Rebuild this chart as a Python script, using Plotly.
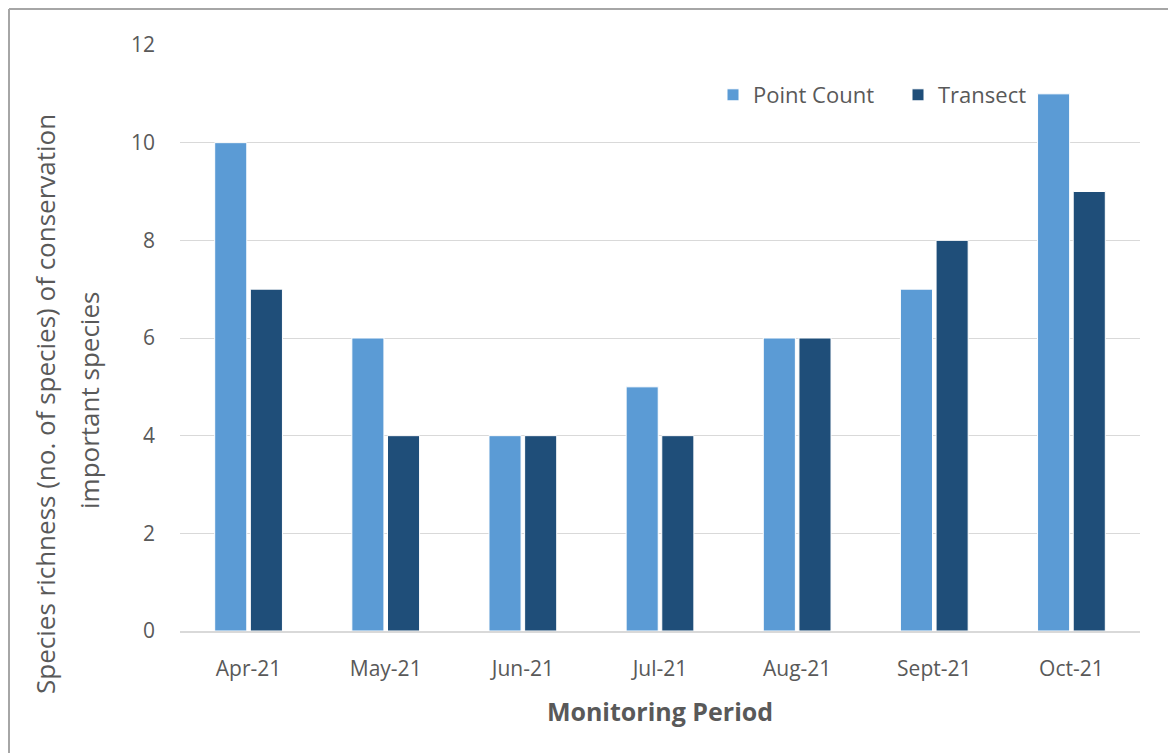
import plotly.graph_objects as go

months = ["Apr-21", "May-21", "Jun-21", "Jul-21", "Aug-21", "Sept-21", "Oct-21"]
point_count = [10, 6, 4, 5, 6, 7, 11]
transect = [7, 4, 4, 4, 6, 8, 9]

OFF = 8  # page body margin
W, H = 1176 - OFF, 753 - OFF
L, R, T, B = 180 - OFF, 36, 45 - OFF, 122
FONT = "Open Sans, Noto Sans, sans-serif"
GRAY = "#595959"

fig = go.Figure()
fig.add_trace(go.Bar(x=months, y=point_count, name="Point Count",
                     marker=dict(color="#5B9BD5", line=dict(color="white", width=1))))
fig.add_trace(go.Bar(x=months, y=transect, name="Transect",
                     marker=dict(color="#1F4E79", line=dict(color="white", width=1))))

pw = W - L - R
ph = H - T - B


def px_x(sx):
    return (sx - OFF - L) / pw


def px_y(sy):
    return (H - B - (sy - OFF)) / ph


fig.update_layout(
    width=W, height=H,
    margin=dict(l=L, r=R, t=T, b=B),
    paper_bgcolor="white", plot_bgcolor="white",
    font=dict(family=FONT, color=GRAY, size=21),
    barmode="group", bargap=0.48, bargroupgap=0.1,
    showlegend=True,
    legend=dict(orientation="h", x=px_x(713), y=px_y(95), xanchor="left", yanchor="middle",
                font=dict(size=22, color=GRAY), bgcolor="rgba(0,0,0,0)",
                itemwidth=30, traceorder="normal", entrywidth=140),
    xaxis=dict(showgrid=False, showline=True, linecolor="#D9D9D9", linewidth=2,
               ticks="", tickfont=dict(size=21, color=GRAY), ticklabelstandoff=18,
               title=dict(text="<b>Monitoring Period</b>", font=dict(size=25, color=GRAY), standoff=22)),
    yaxis=dict(range=[0, 12], dtick=2, showgrid=True, gridcolor="#D9D9D9", gridwidth=1,
               zeroline=False, showline=False, ticks="", tickfont=dict(size=21, color=GRAY),
               ticklabelstandoff=24),
    annotations=[
        dict(text="Species richness (no. of species) of conservation",
             xref="paper", yref="paper", x=px_x(45), y=px_y(404),
             xanchor="center", yanchor="middle", textangle=-90, showarrow=False,
             font=dict(size=26, color=GRAY)),
        dict(text="important species",
             xref="paper", yref="paper", x=px_x(89), y=px_y(401),
             xanchor="center", yanchor="middle", textangle=-90, showarrow=False,
             font=dict(size=26, color=GRAY)),
    ],
    shapes=[
        dict(type="line", xref="paper", yref="paper", x0=px_x(OFF + 1), x1=px_x(1200), y0=px_y(OFF + 1), y1=px_y(OFF + 1),
             line=dict(color="#A6A6A6", width=2)),
        dict(type="line", xref="paper", yref="paper", x0=px_x(OFF + 1), x1=px_x(OFF + 1), y0=px_y(OFF + 1), y1=px_y(800),
             line=dict(color="#A6A6A6", width=2)),
    ],
)

fig.write_html("out.html")
